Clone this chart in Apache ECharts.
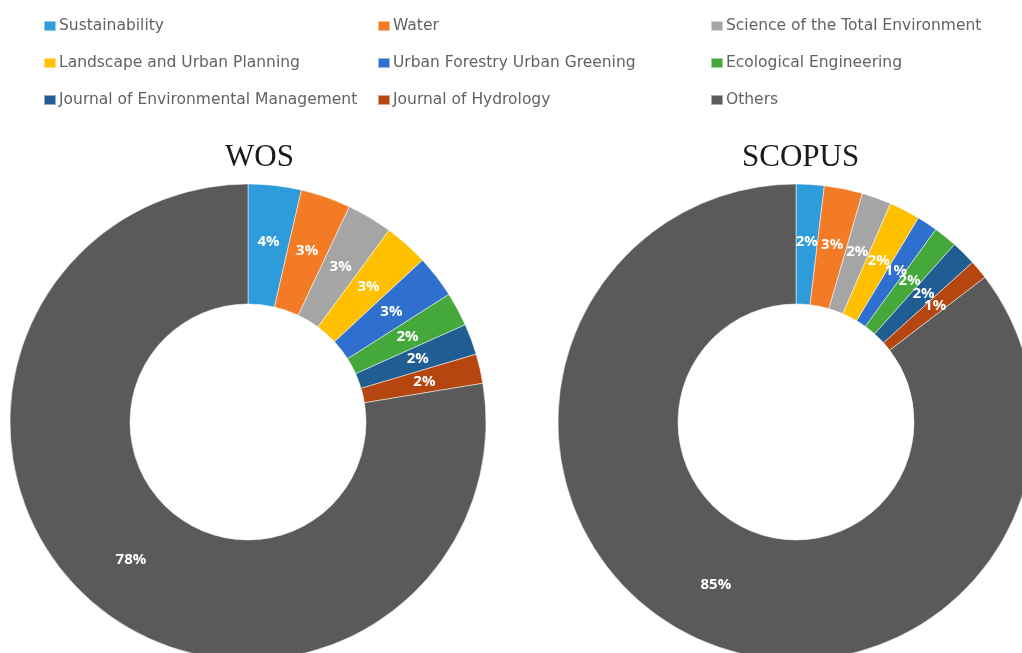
<!DOCTYPE html>
<html>
<head>
<meta charset="utf-8">
<script src="https://cdn.jsdelivr.net/npm/echarts@6/dist/echarts.min.js"></script>
<style>
  html, body { margin: 0; padding: 0; background: #ffffff; }
  #chart { width: 1022px; height: 653px; }
</style>
</head>
<body>
<div id="chart"></div>
<script>
// journals, in legend / slice order
const journals = [
  'Sustainability',
  'Water',
  'Science of the Total Environment',
  'Landscape and Urban Planning',
  'Urban Forestry Urban Greening',
  'Ecological Engineering',
  'Journal of Environmental Management',
  'Journal of Hydrology',
  'Others'
];

// share of papers (%) read from the two donuts
const wosShare = [3.6, 3.4, 3.1, 3.0, 2.9, 2.3, 2.1, 2.0, 77.6];
const scopusShare = [1.9, 2.6, 2.0, 2.1, 1.4, 1.6, 1.7, 1.3, 85.4];

const colors = [
  '#2e9bda', '#f47b25', '#a5a5a5', '#ffc000', '#2f6fcd',
  '#45a83a', '#1f5d93', '#b5460f', '#5a5a5a'
];

// legend laid out in three columns, row by row
const legendCols = [
  [journals[0], journals[3], journals[6]],
  [journals[1], journals[4], journals[7]],
  [journals[2], journals[5], journals[8]]
];
const legendLeft = [43, 377, 710];

const chart = echarts.init(document.getElementById('chart'));

const makeSeries = (name, values, cx) => ({
  name: name,
  type: 'pie',
  center: [cx, 422],
  radius: [118, 238],
  startAngle: 90,
  clockwise: true,
  avoidLabelOverlap: false,
  labelLayout: { hideOverlap: false },
  itemStyle: {
    borderColor: 'rgba(255, 255, 255, 0.5)',
    borderWidth: 1
  },
  label: {
    show: true,
    position: 'inside',
    color: '#ffffff',
    fontFamily: 'Open Sans',
    fontWeight: 'bold',
    fontSize: 15,
    formatter: (p) => Math.round(p.value) + '%'
  },
  labelLine: { show: false },
  emphasis: { disabled: true },
  data: journals.map((j, i) => ({ name: j, value: values[i] }))
});

const option = {
  animation: false,
  color: colors,
  title: [
    {
      text: 'WOS',
      left: 225,
      top: 142,
      padding: 0,
      textStyle: {
        fontFamily: 'Liberation Serif',
        fontWeight: 'normal',
        fontSize: 31,
        color: '#1a1a1a'
      }
    },
    {
      text: 'SCOPUS',
      left: 742,
      top: 142,
      padding: 0,
      textStyle: {
        fontFamily: 'Liberation Serif',
        fontWeight: 'normal',
        fontSize: 31,
        color: '#1a1a1a'
      }
    }
  ],
  legend: legendCols.map((col, i) => ({
    data: col,
    orient: 'vertical',
    left: legendLeft[i],
    top: 18,
    padding: 0,
    itemWidth: 12,
    itemHeight: 10,
    itemGap: 21,
    icon: 'rect',
    selectedMode: false,
    textStyle: {
      fontFamily: 'DejaVu Sans',
      fontSize: 15.5,
      lineHeight: 16,
      color: '#626262',
      padding: [0, 0, 0, -2]
    }
  })),
  series: [
    makeSeries('WOS', wosShare, 248),
    makeSeries('SCOPUS', scopusShare, 796)
  ]
};

chart.setOption(option);
</script>
</body>
</html>
